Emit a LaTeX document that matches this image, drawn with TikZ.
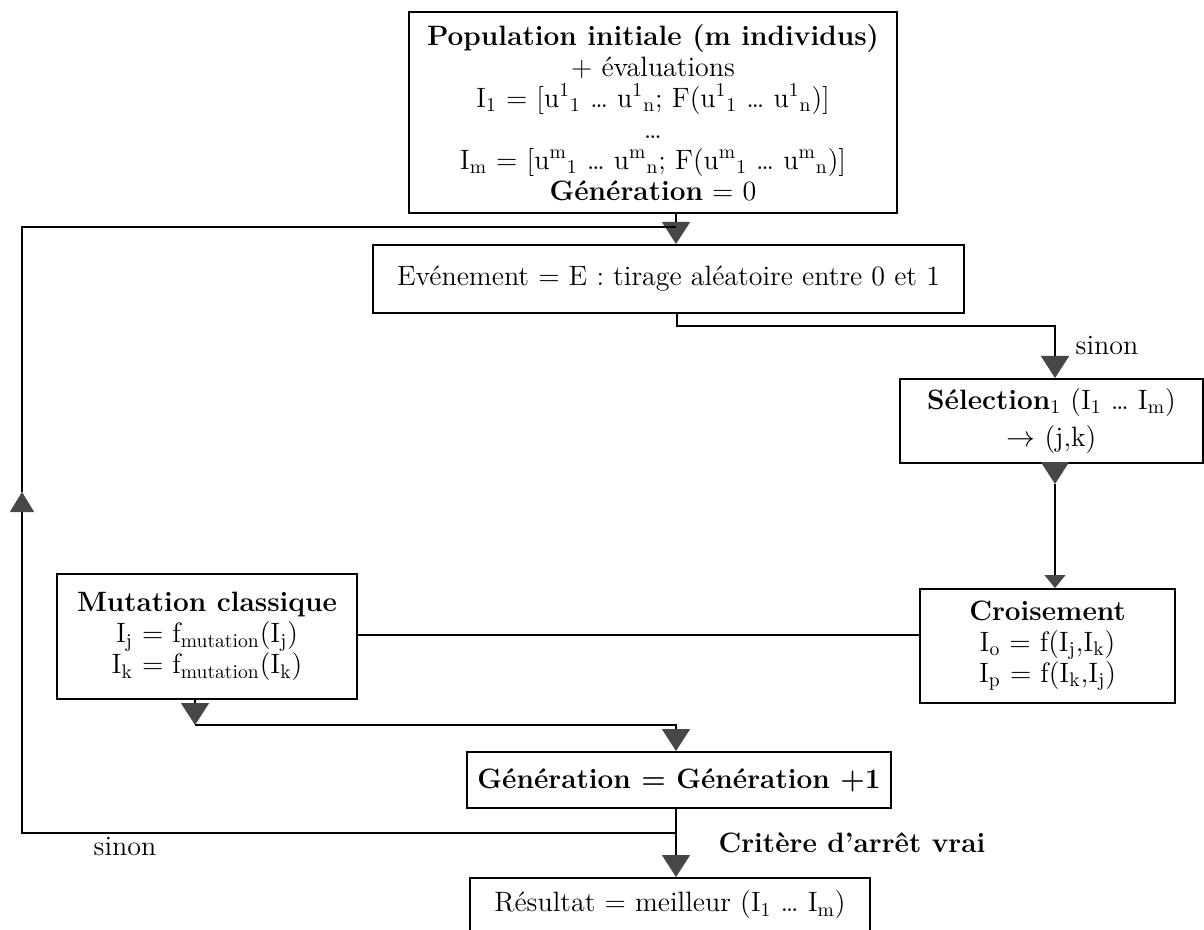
\documentclass[tikz,border=0pt]{standalone}
\usepackage{tikz}
\usetikzlibrary{arrows.meta,calc}
\def \boxLine {1pt}
\def \linkLine {0.8pt}
\def \textSize {\fontsize{14}{15.5}\selectfont}
\def \ui#1#2{u\textsuperscript{#1}\textsubscript{#2}}
\colorlet{tipgray}{black!72}
\tikzset{
	block/.style= {draw, rectangle, align=center, line width=\boxLine, inner sep=0pt, font=\textSize},
	note/.style= {inner sep=0pt, font=\textSize},
	link/.style= {line width=\linkLine},
	arr/.style= {link, -{Triangle[width=14pt,length=11pt,color=tipgray]}},
	arrup/.style= {link, -{Triangle[width=12pt,length=10pt,color=tipgray]}},
	arrsmall/.style= {link, -{Triangle[width=10.5pt,length=6.5pt,color=tipgray]}}
}

\begin{document}
\begin{tikzpicture}[x=0.5pt, y=-0.5pt]
	\useasboundingbox (0,0) rectangle (1204,930);

%%%%%%%%%%%%%%%%%%%%% Nodes %%%%%%%%%%%%%%%%%%%%%
	\node [block, minimum width=244pt, minimum height=100.5pt] (pop) at (653,112.5) {\textbf{Population initiale (m individus)}\\
		+ évaluations\\
		I\textsubscript{1} = [\ui{1}{1} \ldots\ \ui{1}{n}; F(\ui{1}{1} \ldots\ \ui{1}{n})]\\
		\ldots\\
		I\textsubscript{m} = [\ui{m}{1} \ldots\ \ui{m}{n}; F(\ui{m}{1} \ldots\ \ui{m}{n})]\\
		\textbf{Génération} = 0};

	\node [block, minimum width=295.5pt, minimum height=34pt] (ev) at (668.5,279) {Evénement = E : tirage aléatoire entre 0 et 1};

	\node [block, minimum width=151.5pt, minimum height=42pt] (sel) at (1051.5,421) {\textbf{Sélection}\textsubscript{1} (I\textsubscript{1} \ldots\ I\textsubscript{m})\\[3pt] $\rightarrow$ (j,k)};

	\node [block, minimum width=127.5pt, minimum height=57pt] (crois) at (1047.5,646) {\textbf{Croisement}\\ I\textsubscript{o} = f(I\textsubscript{j},I\textsubscript{k})\\ I\textsubscript{p} = f(I\textsubscript{k},I\textsubscript{j})};

	\node [block, minimum width=150pt, minimum height=62.5pt] (mut) at (207,636.5) {\textbf{Mutation classique}\\ I\textsubscript{j} = f\textsubscript{mutation}(I\textsubscript{j})\\ I\textsubscript{k} = f\textsubscript{mutation}(I\textsubscript{k})};

	\node [block, minimum width=212pt, minimum height=28pt] (gen) at (679,780) {\textbf{Génération = Génération +1}};

	\node [block, minimum width=200pt, minimum height=27pt] (res) at (670,905) {Résultat = meilleur (I\textsubscript{1} \ldots\ I\textsubscript{m})};

	\node [note] (sinonA) at (1107,345) {sinon};
	\node [note] (sinonB) at (125,846) {sinon};
	\node [note, font=\textSize\bfseries] (crit) at (852,843) {Critère d'arrêt vrai};

%%%%%%%%%%%%%%%%%%%%% Links %%%%%%%%%%%%%%%%%%%%%
	\coordinate (top) at (676,227);
	\coordinate (bk) at (676,833);
	\coordinate (lup) at (22,492);
	\coordinate (e1) at (677,326);
	\coordinate (s1) at (1055,484);
	\coordinate (cm) at (0,635);
	\coordinate (m1) at (195,725);

	\draw[arr] (pop.south -| top) -- (ev.north -| top);
	\draw[arr] (ev.south -| e1) -- (e1) -| (sel.north -| s1);
	\draw[arr] (sel.south -| s1) -- (s1);
	\draw[arrsmall] (s1) -- (crois.north -| s1);
	\draw[link] (crois.west |- cm) -- (mut.east |- cm);
	\draw[arr] (mut.south -| m1) -- (m1);
	\draw[arr] (m1) -| (gen.north -| bk);
	\draw[arr] (gen.south -| bk) -- (res.north -| bk);
	\draw[arrup] (bk) -| (lup);
	\draw[link] (lup) |- (top);

\end{tikzpicture}
\end{document}
